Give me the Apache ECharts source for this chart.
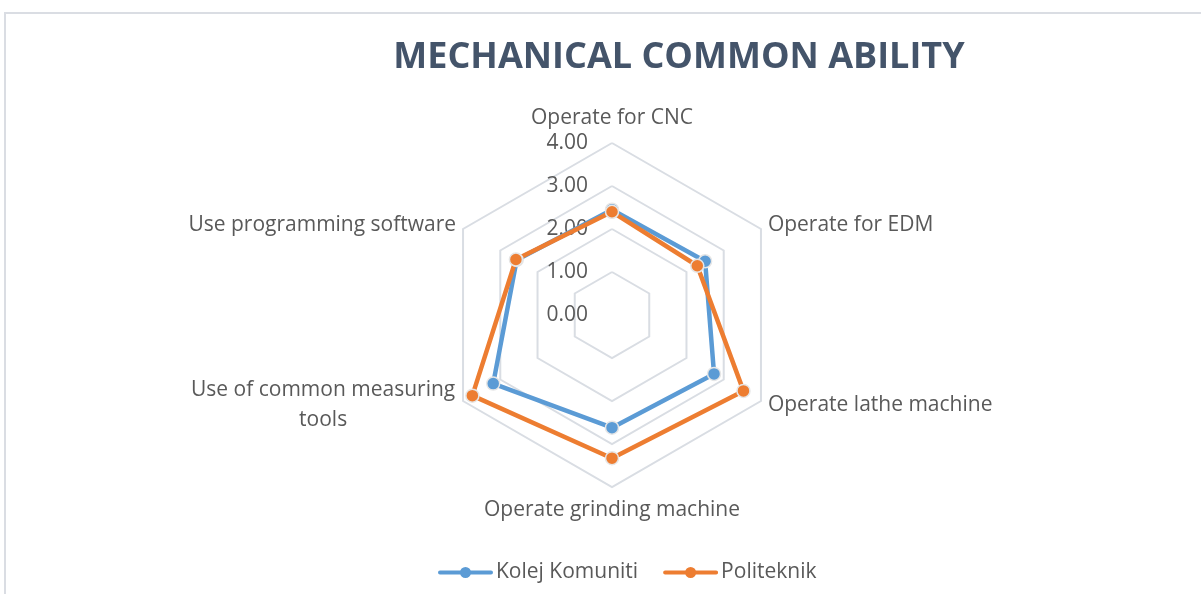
<!DOCTYPE html>
<html>
<head>
<meta charset="utf-8">
<script src="https://cdn.jsdelivr.net/npm/echarts@6/dist/echarts.min.js"></script>
<style>
  html, body { margin: 0; padding: 0; background: #fff; }
  #frame {
    position: absolute; left: 4px; top: 12px; width: 1210px; height: 600px;
    border-top: 2px solid #dadde3; border-left: 2px solid #dadde3;
  }
  #chart { position: absolute; left: 0; top: 0; width: 1201px; height: 594px; }
</style>
</head>
<body>
<div id="frame"></div>
<div id="chart"></div>
<script>
// 轴名称（顺时针顺序）
const abilities = [
  'Operate for CNC',
  'Operate for EDM',
  'Operate lathe machine',
  'Operate grinding machine',
  'Use of common measuring\ntools',
  'Use programming software'
]
const seriesNames = ['Kolej Komuniti', 'Politeknik']
const kolejValues = [2.45, 2.50, 2.74, 2.62, 3.19, 2.56]
const politeknikValues = [2.40, 2.29, 3.53, 3.33, 3.75, 2.58]
const tickLabels = ['0.00', '1.00', '2.00', '3.00', '4.00']

// ECharts 雷达图逆时针排列，这里换成顺时针
const order = [0, 5, 4, 3, 2, 1]
const reorder = arr => order.map(i => arr[i])

const textColor = '#595959'
const font = 'Open Sans'
// 图例：线段 + 圆点
const legendIcon = 'path://M2,4L53,4A2,2,0,0,1,53,8L2,8A2,2,0,0,1,2,4Z M33,6A5.5,5.5,0,1,1,22,6A5.5,5.5,0,1,1,33,6Z'

const myCharts = echarts.init(document.getElementById('chart'))
const option = {
  animation: false,
  title: {
    text: 'MECHANICAL COMMON ABILITY',
    left: 674,
    textAlign: 'center',
    top: 35,
    textStyle: { color: '#44546a', fontFamily: font, fontWeight: 'bold', fontSize: 36 }
  },
  legend: {
    data: seriesNames,
    bottom: 6,
    left: 433,
    itemWidth: 55,
    itemHeight: 12,
    itemGap: 25,
    icon: legendIcon,
    itemStyle: { borderWidth: 0 },
    textStyle: { color: textColor, fontFamily: font, fontSize: 21, padding: [0, 0, 0, -2] }
  },
  radar: {
    center: [612, 315],
    radius: 172,
    startAngle: 90,
    shape: 'polygon',
    splitNumber: 4,
    nameGap: 8,
    axisName: {
      color: textColor,
      fontFamily: font,
      fontSize: 21,
      lineHeight: 30,
      formatter: name => name.indexOf('\n') >= 0
        ? name.split('\n').map(s => '{m|' + s + '}').join('\n')
        : name,
      rich: {
        m: { color: textColor, fontFamily: font, fontSize: 21, lineHeight: 30, width: 266, align: 'center' }
      }
    },
    axisLine: { show: false },
    axisTick: { show: false },
    axisLabel: { show: false },
    splitArea: { show: false },
    splitLine: { lineStyle: { color: '#d9dde3', width: 2 } },
    indicator: reorder(abilities).map((name, i) => {
      const ind = { name: name, min: 0, max: 4 }
      if (i === 0) {
        ind.axisLabel = {
          show: true,
          color: textColor,
          fontFamily: font,
          fontSize: 21,
          margin: 24,
          formatter: v => tickLabels[Math.round(v)]
        }
      }
      return ind
    })
  },
  series: [{
    type: 'radar',
    symbol: 'circle',
    symbolSize: 13,
    data: [
      {
        name: seriesNames[0],
        value: reorder(kolejValues),
        lineStyle: { color: '#5b9bd5', width: 4.5 },
        itemStyle: { color: '#5b9bd5', borderColor: '#e6e6e6', borderWidth: 1.5 }
      },
      {
        name: seriesNames[1],
        value: reorder(politeknikValues),
        lineStyle: { color: '#ed7d31', width: 4.5 },
        itemStyle: { color: '#ed7d31', borderColor: '#e6e6e6', borderWidth: 1.5 }
      }
    ]
  }]
}
myCharts.setOption(option)
</script>
</body>
</html>
